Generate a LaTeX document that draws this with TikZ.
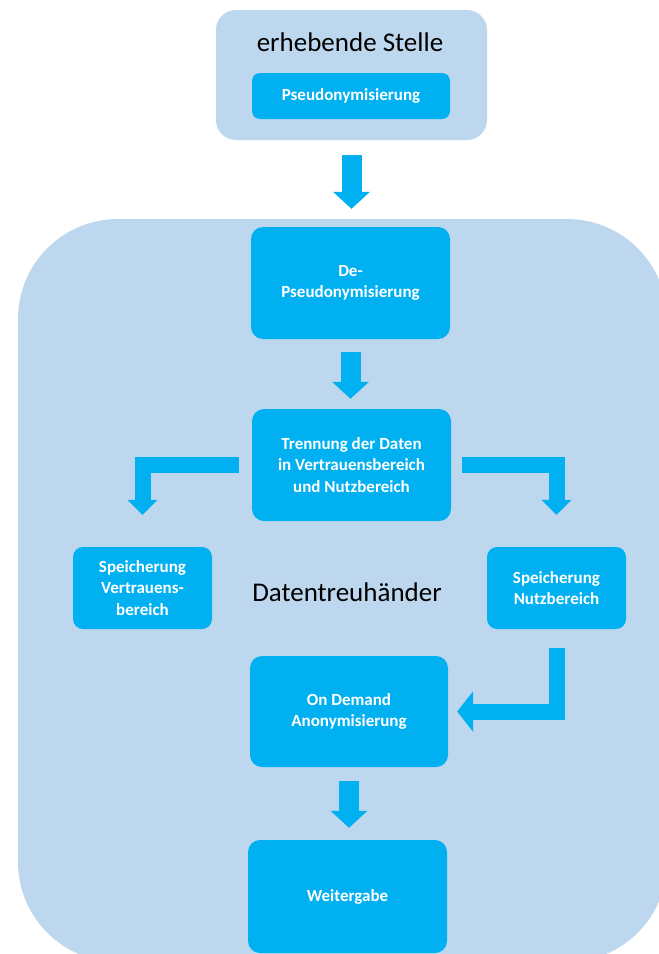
\documentclass[tikz,border=0pt]{standalone}
\usepackage{fontspec}
\setmainfont{Carlito}
\usetikzlibrary{arrows.meta}
\definecolor{contc}{HTML}{BDD7EE}
\definecolor{boxc}{HTML}{00B0F0}
\begin{document}
\begin{tikzpicture}[x=1pt,y=-1pt,
  box/.style={fill=boxc, rounded corners=12pt, text=white,
    font=\bfseries\fontsize{17}{21.5}\selectfont, align=center, inner sep=0pt},
  bigarrow/.style={draw=boxc, line width=20pt, -{Triangle[width=36pt,length=17pt]}},
  elbow/.style={draw=boxc, line width=16pt, line join=miter, -{Triangle[width=29pt,length=15pt]}},
  elbowbig/.style={draw=boxc, line width=16pt, line join=miter, -{Triangle[width=40pt,length=16pt]}},
  bigtext/.style={font=\fontsize{27}{32}\selectfont, text=black}]
\useasboundingbox (0,0) rectangle (659,954);
\clip (0,0) rectangle (659,954);
% outer boxes
\node[fill=contc, rounded corners=20pt, minimum width=271pt, minimum height=130pt, inner sep=0pt] (top) at (351.5,75) {};
\fill[contc, rounded corners=100pt] (18,219) rectangle (667,962);
\node[bigtext] (title) at (350,42) {erhebende Stelle};
\node[box, rounded corners=8pt, minimum width=198pt, minimum height=46pt] (pseudo) at (351,96) {Pseudonymisierung};
\node[bigtext] (dt) at (347,592) {Datentreuhänder};
% process boxes
\node[box, minimum width=199pt, minimum height=112pt] (depseudo) at (350.5,283) {De-\\Pseudonymisierung};
\node[box, minimum width=199pt, minimum height=112pt] (trenn) at (351.5,465) {Trennung der Daten\\in Vertrauensbereich\\und Nutzbereich};
\node[box, rounded corners=10pt, minimum width=139pt, minimum height=82pt] (vert) at (142.5,588) {Speicherung\\Vertrauens-\\bereich};
\node[box, rounded corners=10pt, minimum width=139pt, minimum height=82pt] (nutz) at (556.5,588) {Speicherung\\Nutzbereich};
\node[box, minimum width=198pt, minimum height=111pt] (ondemand) at (349,711.5) {On Demand\\Anonymisierung};
\node[box, minimum width=199pt, minimum height=113pt] (weiter) at (347.5,896.5) {Weitergabe};
% arrows
\draw[bigarrow, shorten <=15pt, shorten >=18pt] (top.south) -- (top.south |- depseudo.north);
\draw[bigarrow, shorten <=13pt, shorten >=10pt] (depseudo.south) -- (depseudo.south |- trenn.north);
\draw[elbow, shorten <=13pt, shorten >=32pt] (trenn.west) -| (vert.north);
\draw[elbow, shorten <=11pt, shorten >=32pt] (trenn.east) -| (nutz.north);
\draw[elbowbig, shorten <=19pt, shorten >=9pt] (nutz.south) |- (ondemand.east);
\draw[bigarrow, shorten <=14pt, shorten >=12pt] (ondemand.south) -- (ondemand.south |- weiter.north);
\end{tikzpicture}
\end{document}
